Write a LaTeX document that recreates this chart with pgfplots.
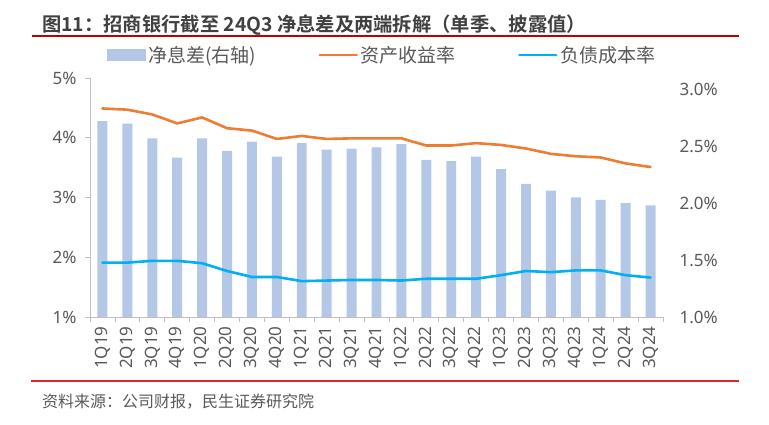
\documentclass[border=0pt]{standalone}
\usepackage{fontspec}
\setmainfont{Noto Sans CJK SC}[BoldFont=* Bold]
\newfontfamily\latinfont{Noto Sans}
\usepackage{pgfplots}
\pgfplotsset{compat=1.18}
\definecolor{barc}{RGB}{180,199,231}
\definecolor{orc}{RGB}{237,125,49}
\definecolor{blc}{RGB}{0,176,240}
\definecolor{txt}{RGB}{89,89,89}
\definecolor{ttl}{RGB}{64,64,64}
\definecolor{axc}{RGB}{191,191,191}
\definecolor{redA}{RGB}{192,0,0}
\definecolor{redB}{RGB}{220,40,40}
\begin{document}
\begin{tikzpicture}
\path[use as bounding box] (0,0) rectangle (769bp,425bp);
% bars on right axis
\begin{axis}[
  at={(90bp,108bp)}, anchor=south west, scale only axis,
  width=573bp, height=239bp,
  xmin=-0.5, xmax=22.5, ymin=1, ymax=3.1,
  axis y line*=right, axis x line=none,
  y axis line style={draw=none},
  ytick={1,1.5,2,2.5,3},
  major tick length=0pt,
  /pgf/number format/assume math mode=true,
  yticklabel={\pgfmathprintnumber[fixed,precision=1,zerofill]{\tick}\%},
  yticklabel style={font=\latinfont\fontsize{17bp}{20bp}\selectfont, text=txt, xshift=13bp},
]
\addplot[ybar, bar width=0.4, fill=barc, draw=none] coordinates {
(0,2.72) (1,2.70) (2,2.57) (3,2.40) (4,2.57) (5,2.46) (6,2.54) (7,2.41)
(8,2.53) (9,2.47) (10,2.48) (11,2.49) (12,2.52) (13,2.38) (14,2.37) (15,2.41)
(16,2.30) (17,2.17) (18,2.11) (19,2.05) (20,2.03) (21,2.00) (22,1.98)};
\end{axis}
% lines on left axis
\begin{axis}[
  at={(90bp,108bp)}, anchor=south west, scale only axis,
  width=573bp, height=239bp,
  xmin=-0.5, xmax=22.5, ymin=1, ymax=5,
  axis y line*=left, axis x line*=bottom,
  axis line style={draw=axc, line width=0.8bp},
  xtick={0,...,22},
  xticklabels={1Q19,2Q19,3Q19,4Q19,1Q20,2Q20,3Q20,4Q20,1Q21,2Q21,3Q21,4Q21,1Q22,2Q22,3Q22,4Q22,1Q23,2Q23,3Q23,4Q23,1Q24,2Q24,3Q24},
  minor xtick={-0.5,0.5,...,22.5},
  ytick={1,2,3,4,5},
  tick align=outside,
  major tick length=5bp, minor tick length=5bp,
  major x tick style={draw=none},
  minor x tick style={draw=axc, line width=0.8bp},
  major y tick style={draw=axc, line width=0.8bp},
  /pgf/number format/assume math mode=true,
  yticklabel={\pgfmathprintnumber{\tick}\%},
  yticklabel style={font=\latinfont\fontsize{17bp}{20bp}\selectfont, text=txt, xshift=-5bp},
  xticklabel style={font=\latinfont\fontsize{17bp}{20bp}\selectfont, text=txt, rotate=90, anchor=east, xshift=-1bp},
  legend columns=3,
  legend style={at={(axis description cs:0.0297,1.096)}, anchor=west,
    draw=none, fill=none, inner xsep=0pt, inner ysep=0pt,
    font=\fontsize{19bp}{22bp}\selectfont, text=txt,
    nodes={inner xsep=2.5bp, inner ysep=0pt},
    /tikz/every even column/.append style={column sep=60bp}},
]
\addlegendimage{legend image code/.code={\fill[barc] (0bp,-5.5bp) rectangle (38bp,5.5bp);}}
\addlegendentry{净息差(右轴)}
\addplot[color=orc, line width=2.6bp, line join=round, line cap=round,
  legend image code/.code={\draw[orc, line width=2.6bp, line cap=round] (1bp,0) -- (38bp,0);}] coordinates {
(0,4.49) (1,4.47) (2,4.39) (3,4.24) (4,4.34) (5,4.16) (6,4.12) (7,3.98)
(8,4.03) (9,3.98) (10,3.99) (11,3.99) (12,3.99) (13,3.87) (14,3.87) (15,3.91)
(16,3.88) (17,3.82) (18,3.73) (19,3.69) (20,3.67) (21,3.57) (22,3.51)};
\addlegendentry{资产收益率}
\addplot[color=blc, line width=2.6bp, line join=round, line cap=round,
  legend image code/.code={\draw[blc, line width=2.6bp, line cap=round] (1bp,0) -- (38bp,0);}] coordinates {
(0,1.91) (1,1.91) (2,1.94) (3,1.94) (4,1.90) (5,1.77) (6,1.67) (7,1.67)
(8,1.60) (9,1.61) (10,1.62) (11,1.62) (12,1.61) (13,1.64) (14,1.64) (15,1.64)
(16,1.70) (17,1.77) (18,1.75) (19,1.78) (20,1.78) (21,1.70) (22,1.66)};
\addlegendentry{负债成本率}
\end{axis}
\node[anchor=west, inner sep=0pt, text=ttl, font=\fontsize{19.3bp}{22bp}\selectfont\bfseries] at (42bp,400bp) {图11：招商银行截至 24Q3 净息差及两端拆解（单季、披露值）};
\draw[redA, line width=1.2bp] (32bp,389bp) -- (739bp,389bp);
\draw[redB, line width=1.2bp] (31bp,44bp) -- (739bp,44bp);
\node[anchor=west, inner sep=0pt, text=txt, font=\fontsize{16bp}{18bp}\selectfont] at (42bp,23bp) {资料来源：公司财报，民生证券研究院};
\end{tikzpicture}
\end{document}
